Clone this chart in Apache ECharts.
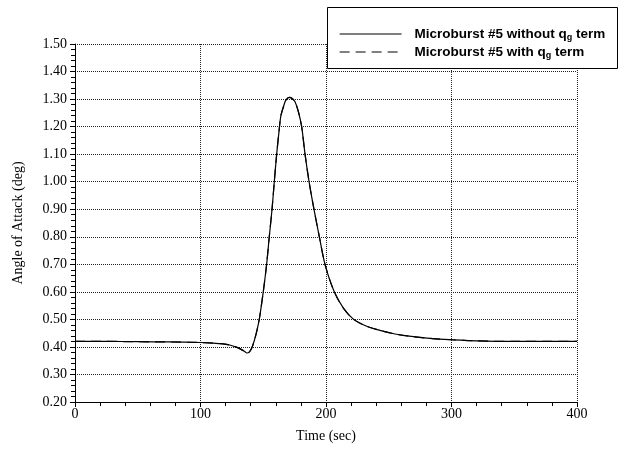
<!DOCTYPE html>
<html><head><meta charset="utf-8">
<script src="https://cdn.jsdelivr.net/npm/echarts@6/dist/echarts.min.js"></script>
<style>html,body{margin:0;padding:0;background:#fff}#c{width:626px;height:449px}</style>
</head><body><div id="c"></div>
<script>
var timeSec = [0, 25, 50, 75, 100, 110, 118, 124, 128, 132, 135, 137, 139, 141, 143, 145, 147, 150, 152.7, 154.8, 157, 158.8, 160.7, 162.5, 164, 166.5, 168, 170.8, 173, 175.3, 178, 180.6, 183.3, 186.5, 190.4, 194.7, 199.2, 206.6, 214, 222, 232, 243, 255, 268, 285, 300, 320, 350, 400];
var withoutQg = [0.420, 0.420, 0.419, 0.418, 0.416, 0.414, 0.411, 0.406, 0.400, 0.392, 0.384, 0.378, 0.382, 0.398, 0.425, 0.460, 0.505, 0.600, 0.700, 0.800, 0.900, 1.000, 1.100, 1.180, 1.238, 1.278, 1.296, 1.306, 1.302, 1.290, 1.254, 1.200, 1.100, 1.000, 0.900, 0.800, 0.700, 0.600, 0.540, 0.500, 0.476, 0.460, 0.447, 0.438, 0.430, 0.426, 0.422, 0.420, 0.420];
var withQg = [0.420, 0.420, 0.419, 0.418, 0.416, 0.414, 0.411, 0.406, 0.400, 0.392, 0.384, 0.378, 0.382, 0.398, 0.425, 0.460, 0.505, 0.600, 0.700, 0.800, 0.900, 1.000, 1.100, 1.180, 1.238, 1.278, 1.296, 1.306, 1.302, 1.290, 1.254, 1.200, 1.100, 1.000, 0.900, 0.800, 0.700, 0.600, 0.540, 0.500, 0.476, 0.460, 0.447, 0.438, 0.430, 0.426, 0.422, 0.420, 0.420];
var seriesNames = ['Microburst #5 without q{s|g} term', 'Microburst #5 with q{s|g} term'];

function pairs(xs, ys){ return xs.map(function(x,i){ return [x, ys[i]]; }); }

var chart = echarts.init(document.getElementById('c'), null, {renderer:'canvas'});
var serif = '"Liberation Serif","Times New Roman",serif';
var sans = '"Liberation Sans",Arial,sans-serif';
chart.setOption({
  animation: false,
  backgroundColor: '#fff',
  grid: {left: 75, right: 49, top: 44, bottom: 47, containLabel: false},
  graphic: [{
    type: 'rect', left: 327, top: 7, z: 100,
    shape: {width: 290, height: 61},
    style: {fill: '#fff', stroke: '#000', lineWidth: 1}
  }],
  legend: {
    orient: 'vertical', left: 334, top: 22, z: 200,
    itemWidth: 62, itemHeight: 14, itemGap: 3,
    data: seriesNames,
    itemStyle: {opacity: 0, borderWidth: 0},
    lineStyle: {width: 1.2},
    textStyle: {
      fontFamily: sans, fontWeight: 'bold', fontSize: 13.5, color: '#000',
      padding: [0,0,0,8],
      rich: { s: {fontSize: 9, fontWeight: 'bold', verticalAlign: 'bottom', padding: [7,0,0,0], fontFamily: sans} }
    }
  },
  xAxis: {
    type: 'value', min: 0, max: 400, interval: 100,
    name: 'Time (sec)', nameLocation: 'middle', nameGap: 27,
    nameTextStyle: {fontFamily: serif, fontSize: 14, color: '#000'},
    axisLine: {show: true, onZero: false, lineStyle: {color: '#000', width: 1}},
    axisTick: {show: true, length: 5, lineStyle: {color: '#000'}},
    minorTick: {show: true, splitNumber: 5, length: 4, lineStyle: {color: '#000'}},
    axisLabel: {fontFamily: serif, fontSize: 14, color: '#000', margin: 5},
    splitLine: {show: true, lineStyle: {type: 'dotted', color: '#222', width: 1}}
  },
  yAxis: {
    type: 'value', min: 0.2, max: 1.5, interval: 0.1,
    name: 'Angle of Attack (deg)', nameLocation: 'middle', nameGap: 50,
    nameTextStyle: {fontFamily: serif, fontSize: 14, color: '#000'},
    axisLine: {show: true, lineStyle: {color: '#000', width: 1}},
    axisTick: {show: true, length: 5, lineStyle: {color: '#000'}},
    minorTick: {show: true, splitNumber: 5, length: 4, lineStyle: {color: '#000'}},
    axisLabel: {fontFamily: serif, fontSize: 14, color: '#000', margin: 8,
      formatter: function(v){ return v.toFixed(2); }},
    splitLine: {show: true, lineStyle: {type: 'dotted', color: '#222', width: 1}}
  },
  series: [{
    name: seriesNames[0], type: 'line', data: pairs(timeSec, withoutQg),
    showSymbol: false, symbol: 'none', smooth: 0.3,
    lineStyle: {color: '#000', width: 1.2, type: 'solid'}, itemStyle: {color: '#000'}, z: 3
  }, {
    name: seriesNames[1], type: 'line', data: pairs(timeSec, withQg),
    showSymbol: false, symbol: 'none', smooth: 0.3,
    lineStyle: {color: '#000', width: 1.2, type: [10, 6]}, itemStyle: {color: '#000'}, z: 4
  }]
});
</script></body></html>
